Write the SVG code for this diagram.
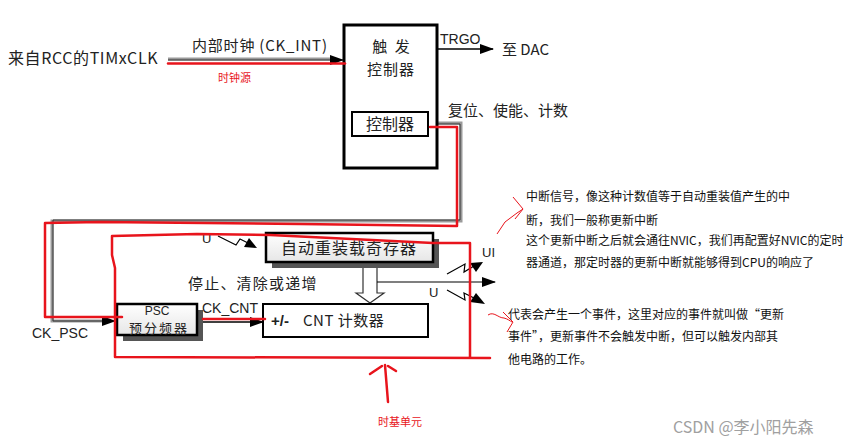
<svg xmlns="http://www.w3.org/2000/svg" width="859" height="446" viewBox="0 0 859 446">
<defs>
<marker id="ah" markerWidth="14" markerHeight="10" refX="13" refY="5" orient="auto" markerUnits="userSpaceOnUse"><path d="M0,0 L14,5 L0,10 Z" fill="#000"/></marker>
<linearGradient id="gb" x1="0" y1="0" x2="0" y2="1"><stop offset="0" stop-color="#ffffff"/><stop offset="1" stop-color="#e6e6e6"/></linearGradient>
</defs>
<style>
.cjk{font-family:"Noto Sans CJK SC","Liberation Sans",sans-serif;fill:#222}
.lat{font-family:"Liberation Sans",Arial,sans-serif;fill:#222}
.red{stroke:#e8141c;stroke-width:2.5;fill:none;stroke-linecap:round;stroke-linejoin:round}
.redt{font-family:"Noto Sans CJK SC",sans-serif;fill:#e8141c;font-size:11px}
.gw{stroke:#9a9a9a;stroke-width:3;fill:none}
.gk{stroke:#333;stroke-width:1;fill:none}
.box{fill:#fff;stroke:#000}
.shadow{fill:#555}
.ann{font-family:"Noto Sans CJK SC",sans-serif;font-size:12px;fill:#111}
</style>
<rect width="859" height="446" fill="#fff"/>

<g id="connectors">
<line x1="168" y1="59" x2="333" y2="59" class="gw"/>
<line x1="168" y1="60" x2="343" y2="60" class="gk" marker-end="url(#ah)"/>
<line x1="437" y1="49" x2="493" y2="49" stroke="#000" stroke-width="1.3" marker-end="url(#ah)"/>
<path d="M437,123 H461 V221 H52 V321 H104" class="gw"/>
<path d="M437,124 H460 V220 H53 V321 H115" class="gk" marker-end="url(#ah)"/>
<line x1="197" y1="322" x2="263" y2="322" stroke="#000" stroke-width="1.3" marker-end="url(#ah)"/>
<path d="M363,262 V293 H356 L370,303 L384,293 H377 V262" fill="#fff" stroke="#333" stroke-width="1.2"/>
<line x1="377" y1="282" x2="495" y2="282" stroke="#000" stroke-width="1.2" marker-end="url(#ah)"/>
<path d="M218,236 L236,245 L240,239 L250,244" fill="none" stroke="#000" stroke-width="1.2"/>
<path d="M257,248 L244,247 L249,238 Z" fill="#000"/>
<path d="M447,274 L465,264 L464,272 L474,266" fill="none" stroke="#000" stroke-width="1.2"/>
<path d="M483,262 L476,272 L470,263 Z" fill="#000"/>
<path d="M447,290 L465,300 L464,293 L474,298" fill="none" stroke="#000" stroke-width="1.2"/>
<path d="M485,304 L470,302 L476,293 Z" fill="#000"/>
</g>

<g id="trigger">
<rect x="344" y="25" width="93" height="143" class="box" stroke-width="3"/>
<text x="392" y="52" class="cjk" font-size="15" text-anchor="middle" letter-spacing="2">触 发</text>
<text x="391" y="75" class="cjk" font-size="15" text-anchor="middle" letter-spacing="1">控制器</text>
<rect x="352" y="112" width="76" height="24" class="box" stroke-width="2"/>
<text x="390" y="130" class="cjk" font-size="16" text-anchor="middle">控制器</text>
</g>

<g id="reload">
<rect x="272" y="239" width="167" height="29" class="shadow"/>
<rect x="266" y="233" width="167" height="29" fill="url(#gb)" stroke="#000" stroke-width="2.5"/>
<text x="349" y="254" class="cjk" font-size="16" text-anchor="middle" letter-spacing="1">自动重装载奇存器</text>
</g>

<g id="psc">
<rect x="123" y="310" width="80" height="31" class="shadow"/>
<rect x="117" y="304" width="80" height="31" fill="url(#gb)" stroke="#000" stroke-width="2.5"/>
<text x="157" y="315" class="lat" font-size="12" text-anchor="middle">PSC</text>
<text x="159" y="333" class="cjk" font-size="13" text-anchor="middle" letter-spacing="2">预分频器</text>
</g>

<g id="counter">
<rect x="263" y="304" width="165" height="33" class="box" stroke-width="2"/>
<text x="271" y="326" class="lat" font-size="15" font-weight="bold">+/-</text>
<text x="303" y="326" class="cjk" font-size="15" letter-spacing="0.5">CNT 计数器</text>
</g>

<g id="labels">
<text x="8" y="64" class="cjk" font-size="16" letter-spacing="0.6">来自RCC的TIMxCLK</text>
<text x="192" y="51" class="cjk" font-size="15" letter-spacing="0.8">内部时钟 (CK_INT)</text>
<text x="440" y="44" class="lat" font-size="14">TRGO</text>
<text x="502" y="55" class="cjk" font-size="15">至 DAC</text>
<text x="448" y="116" class="cjk" font-size="15">复位、使能、计数</text>
<text x="188" y="289" class="cjk" font-size="15" letter-spacing="1.2">停止、清除或递增</text>
<text x="32" y="338" class="lat" font-size="14">CK_PSC</text>
<text x="202" y="313" class="lat" font-size="14">CK_CNT</text>
<text x="202" y="243" class="lat" font-size="13">U</text>
<text x="482" y="257" class="lat" font-size="13">UI</text>
<text x="429" y="297" class="lat" font-size="13">U</text>
</g>

<g id="annotations">
<path d="M168,63.5 H345" class="red" stroke-width="3"/>
<text x="218" y="82" class="redt">时钟源</text>
<path d="M430,127 H457 V226 L300,224 L100,222 L45,223 L45,317 L122,317" class="red"/>
<path d="M112,236 L197,234 L270,235 L433,243 L470,243 L470,357 M112,236 L112,255 L115,268 L115,357 L490,358" class="red"/>
<path d="M203,319 H265" class="red"/>
<path d="M385,365 L388,402 M370,374 L382,366 M388,366 L396,371" class="red"/>
<text x="378" y="426" class="redt" font-size="12">时基单元</text>
<path d="M497,234 L505,222 L517,213 L523,209 L518,203 L513,197 M523,209 L515,219" fill="none" stroke="#e8141c" stroke-width="1"/>
<path d="M488,315 C494,311 498,318 504,318 C508,319 510,321 512,322 M503,312 L513,322 L507,332" fill="none" stroke="#e8141c" stroke-width="1"/>
<text x="526" y="201" class="ann">中断信号，像这种计数值等于自动重装值产生的中</text>
<text x="526" y="225" class="ann">断，我们一般称更新中断</text>
<text x="526" y="245" class="ann">这个更新中断之后就会通往NVIC，我们再配置好NVIC的定时</text>
<text x="526" y="267" class="ann">器通道，那定时器的更新中断就能够得到CPU的响应了</text>
<text x="508" y="319" class="ann">代表会产生一个事件，这里对应的事件就叫做“更新</text>
<text x="508" y="341" class="ann">事件”，更新事件不会触发中断，但可以触发内部其</text>
<text x="508" y="364" class="ann">他电路的工作。</text>
<text x="673" y="433" font-family="Noto Sans CJK SC,sans-serif" font-size="16" fill="#a0a0a0">CSDN @李小阳先森</text>
</g>
</svg>
